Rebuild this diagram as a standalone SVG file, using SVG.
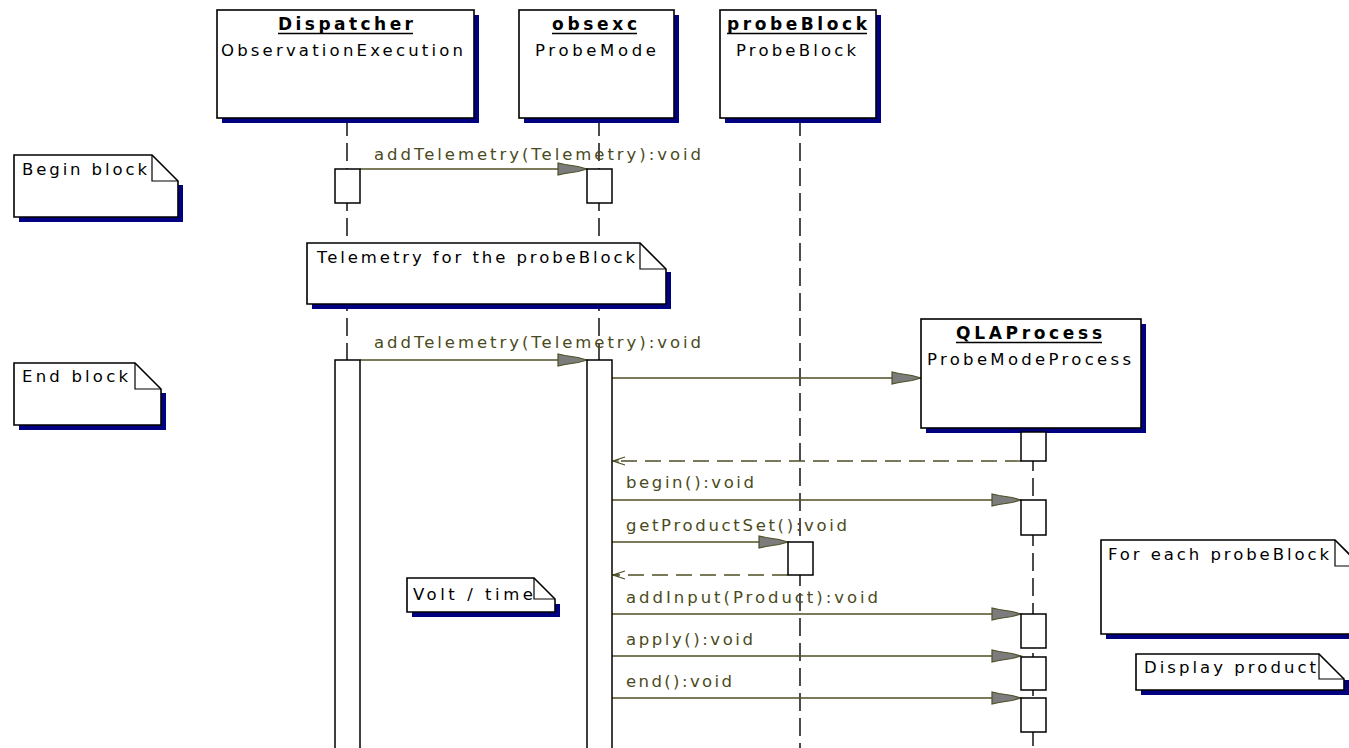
<svg xmlns="http://www.w3.org/2000/svg" width="1349" height="748" viewBox="0 0 1349 748">
  <style>
    text { font-family: "DejaVu Sans", "Liberation Sans", sans-serif; font-size: 16.5px; fill: #000; }
    .title { font-weight: bold; font-size: 17px; }
    .msg { fill: #4a4a20; }
    .box { fill: #fff; stroke: #000; stroke-width: 1.6; }
    .shadow { fill: #000080; }
    .life { stroke: #000; stroke-width: 1.4; stroke-dasharray: 18 7; fill: none; }
    .act { fill: #fff; stroke: #000; stroke-width: 1.5; }
    .call { stroke: #4f4f26; stroke-width: 1.4; fill: none; marker-end: url(#filled); }
    .ret { stroke: #4f4f26; stroke-width: 1.4; fill: none; stroke-dasharray: 16 8; marker-end: url(#open); }
    .ul { stroke: #000; stroke-width: 1.4; }
    .fold { fill: none; stroke: #000; stroke-width: 1.2; }
  </style>
  <defs>
    <marker id="filled" markerUnits="userSpaceOnUse" markerWidth="34" markerHeight="16" viewBox="-31 -8 33 16" refX="0" refY="0" orient="auto">
      <path d="M0,0 L-9,-2.5 L-22,-4.5 L-29,-6 L-29,6 L-22,4.5 L-9,2.5 Z" fill="#7c7c7c" stroke="#4f4f26" stroke-width="1.2"/>
    </marker>
    <marker id="open" markerUnits="userSpaceOnUse" markerWidth="16" markerHeight="12" viewBox="-13 -6 15 12" refX="0" refY="0" orient="auto">
      <path d="M-12,-4 L0,0 L-12,4 M-6,-1.5 L0,0 L-6,1.5" fill="none" stroke="#4f4f26" stroke-width="1.3"/>
    </marker>
  </defs>

  <!-- lifelines -->
  <g id="lifelines">
    <line class="life" x1="347" y1="118" x2="347" y2="748"/>
    <line class="life" x1="599" y1="118" x2="599" y2="748"/>
    <line class="life" x1="800" y1="118" x2="800" y2="748"/>
    <line class="life" x1="1033" y1="428" x2="1033" y2="748"/>
  </g>

  <!-- messages -->
  <g id="connectors">
    <line class="call" x1="360" y1="169" x2="587" y2="169"/>
    <text class="msg" x="374" y="160" textLength="327" lengthAdjust="spacing">addTelemetry(Telemetry):void</text>

    <line class="call" x1="360" y1="360" x2="587" y2="360"/>
    <text class="msg" x="374" y="348" textLength="327" lengthAdjust="spacing">addTelemetry(Telemetry):void</text>

    <line class="call" x1="612" y1="378" x2="921" y2="378"/>

    <line class="ret" x1="1021" y1="461" x2="613" y2="461"/>

    <line class="call" x1="612" y1="500" x2="1021" y2="500"/>
    <text class="msg" x="626" y="488" textLength="128" lengthAdjust="spacing">begin():void</text>

    <line class="call" x1="612" y1="542" x2="788" y2="542"/>
    <text class="msg" x="626" y="531" textLength="221" lengthAdjust="spacing">getProductSet():void</text>

    <line class="ret" x1="788" y1="575" x2="613" y2="575"/>

    <line class="call" x1="612" y1="614" x2="1021" y2="614"/>
    <text class="msg" x="626" y="603" textLength="252" lengthAdjust="spacing">addInput(Product):void</text>

    <line class="call" x1="612" y1="656" x2="1021" y2="656"/>
    <text class="msg" x="626" y="645" textLength="127" lengthAdjust="spacing">apply():void</text>

    <line class="call" x1="612" y1="698" x2="1021" y2="698"/>
    <text class="msg" x="626" y="687" textLength="106" lengthAdjust="spacing">end():void</text>
  </g>

  <!-- Dispatcher -->
  <g id="dispatcher">
    <rect class="shadow" x="222" y="15" width="257" height="108"/>
    <rect class="box" x="217" y="10" width="257" height="108"/>
    <text class="title" x="278" y="30" textLength="135" lengthAdjust="spacing">Dispatcher</text>
    <line class="ul" x1="278" y1="33.5" x2="413" y2="33.5"/>
    <text x="221" y="56" textLength="242" lengthAdjust="spacing">ObservationExecution</text>
    <rect class="act" x="335" y="169" width="25" height="34"/>
    <rect class="act" x="335" y="360" width="25" height="400"/>
  </g>

  <!-- obsexc -->
  <g id="obsexc">
    <rect class="shadow" x="524" y="15" width="155" height="108"/>
    <rect class="box" x="519" y="10" width="155" height="108"/>
    <text class="title" x="552" y="30" textLength="85" lengthAdjust="spacing">obsexc</text>
    <line class="ul" x1="552" y1="33.5" x2="637" y2="33.5"/>
    <text x="535" y="56" textLength="121" lengthAdjust="spacing">ProbeMode</text>
    <rect class="act" x="587" y="169" width="25" height="34"/>
    <rect class="act" x="587" y="360" width="25" height="400"/>
  </g>

  <!-- probeBlock -->
  <g id="probeBlock">
    <rect class="shadow" x="725" y="15" width="156" height="108"/>
    <rect class="box" x="720" y="10" width="156" height="108"/>
    <text class="title" x="727" y="30" textLength="140" lengthAdjust="spacing">probeBlock</text>
    <line class="ul" x1="727" y1="33.5" x2="867" y2="33.5"/>
    <text x="736" y="56" textLength="120" lengthAdjust="spacing">ProbeBlock</text>
    <rect class="act" x="788" y="542" width="25" height="33"/>
  </g>

  <!-- QLAProcess -->
  <g id="qlaProcess">
    <rect class="shadow" x="926" y="324" width="220" height="109"/>
    <rect class="box" x="921" y="319" width="220" height="109"/>
    <text class="title" x="956" y="339" textLength="146" lengthAdjust="spacing">QLAProcess</text>
    <line class="ul" x1="956" y1="342.5" x2="1102" y2="342.5"/>
    <text x="927" y="365" textLength="204" lengthAdjust="spacing">ProbeModeProcess</text>
    <rect class="act" x="1021" y="432" width="25" height="29"/>
    <rect class="act" x="1021" y="500" width="25" height="35"/>
    <rect class="act" x="1021" y="614" width="25" height="34"/>
    <rect class="act" x="1021" y="657" width="25" height="33"/>
    <rect class="act" x="1021" y="698" width="25" height="34"/>
  </g>

  <!-- notes -->
  <g id="note-begin">
    <path class="shadow" d="M19,217 H178 V185 H183 V222 H19 Z"/>
    <path class="box" d="M14,155 H152 L178,181 V217 H14 Z"/>
    <path class="fold" d="M152,155 V181 H178"/>
    <text x="22" y="175" textLength="125" lengthAdjust="spacing">Begin block</text>
  </g>

  <g id="note-telemetry">
    <path class="shadow" d="M312,304 H666 V272 H671 V309 H312 Z"/>
    <path class="box" d="M307,243 H640 L666,269 V304 H307 Z"/>
    <path class="fold" d="M640,243 V269 H666"/>
    <text x="317" y="263" textLength="318" lengthAdjust="spacing">Telemetry for the probeBlock</text>
  </g>

  <g id="note-end">
    <path class="shadow" d="M19,425 H161 V393 H166 V430 H19 Z"/>
    <path class="box" d="M14,363 H135 L161,389 V425 H14 Z"/>
    <path class="fold" d="M135,363 V389 H161"/>
    <text x="22" y="382" textLength="106" lengthAdjust="spacing">End block</text>
  </g>

  <g id="note-volt">
    <path class="shadow" d="M412,612 H555 V604 H560 V617 H412 Z"/>
    <path class="box" d="M407,578 H534 L555,599 V612 H407 Z"/>
    <path class="fold" d="M534,578 V599 H555"/>
    <text x="413" y="600" textLength="120" lengthAdjust="spacing">Volt / time</text>
  </g>

  <g id="note-foreach">
    <path class="shadow" d="M1106,634 H1365 V600 H1370 V639 H1106 Z"/>
    <path class="box" d="M1101,540 H1335 L1361,566 V634 H1101 Z"/>
    <path class="fold" d="M1335,540 V566 H1361"/>
    <text x="1108" y="560" textLength="221" lengthAdjust="spacing">For each probeBlock</text>
  </g>

  <g id="note-display">
    <path class="shadow" d="M1141,690 H1344 V680 H1349 V695 H1141 Z"/>
    <path class="box" d="M1136,654 H1319 L1344,679 V690 H1136 Z"/>
    <path class="fold" d="M1319,654 V679 H1344"/>
    <text x="1144" y="673" textLength="172" lengthAdjust="spacing">Display product</text>
  </g>
</svg>
